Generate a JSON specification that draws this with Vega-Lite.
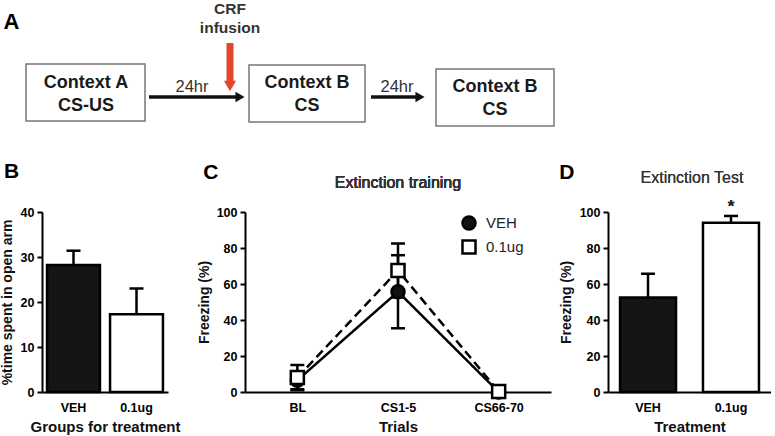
{
  "$schema": "https://vega.github.io/schema/vega-lite/v6.json",
  "padding": {"left": 0, "top": 0, "right": 0, "bottom": 0},
  "background": "white",
  "spacing": 11,
  "config": {
    "view": {"stroke": null},
    "font": "Liberation Sans",
    "axis": {"domainColor": "black", "domainWidth": 2, "tickColor": "black", "tickWidth": 2, "tickSize": 5, "labelFont": "Liberation Sans", "labelFontSize": 12.5, "labelFontWeight": "bold", "labelColor": "black", "labelOverlap": false, "titleFont": "Liberation Sans", "titleFontSize": 14, "titleFontWeight": "bold", "titleColor": "#111", "grid": false},
    "axisX": {"ticks": false, "labelAngle": 0, "labelPadding": 9, "titlePadding": 6},
    "axisY": {"titlePadding": 6, "labelPadding": 3},
    "title": {"fontSize": 21, "fontWeight": "bold", "anchor": "start", "frame": "bounds", "color": "black", "font": "Liberation Sans"}
  },
  "vconcat": [
    {
      "width": 560,
      "height": 150,
      "layer": [
        {
          "data": {"values": [
            {"x0": 26, "x1": 145, "y0": 64, "y1": 121},
            {"x0": 249, "x1": 365, "y0": 65, "y1": 122},
            {"x0": 436, "x1": 554, "y0": 69, "y1": 126}
          ]},
          "mark": {"type": "rect", "fill": "white", "stroke": "#777", "strokeWidth": 1.5},
          "encoding": {
            "x": {"field": "x0", "type": "quantitative", "scale": {"domain": [42, 602], "nice": false, "zero": false}, "axis": null},
            "x2": {"field": "x1"},
            "y": {"field": "y0", "type": "quantitative", "scale": {"domain": [0, 150], "nice": false, "zero": false, "reverse": true}, "axis": null},
            "y2": {"field": "y1"}
          }
        },
        {
          "data": {"values": [
            {"x0": 149, "x1": 238, "y": 97},
            {"x0": 371, "x1": 418, "y": 97}
          ]},
          "mark": {"type": "rule", "strokeWidth": 3.5, "color": "#111"},
          "encoding": {
            "x": {"field": "x0", "type": "quantitative"},
            "x2": {"field": "x1"},
            "y": {"field": "y", "type": "quantitative"}
          }
        },
        {
          "data": {"values": [
            {"x": 240, "y": 97},
            {"x": 420, "y": 97}
          ]},
          "mark": {"type": "point", "shape": "triangle-right", "filled": true, "color": "#111", "size": 110, "opacity": 1},
          "encoding": {
            "x": {"field": "x", "type": "quantitative"},
            "y": {"field": "y", "type": "quantitative"}
          }
        },
        {
          "data": {"values": [{"x": 230, "y0": 43, "y1": 84}]},
          "mark": {"type": "rule", "strokeWidth": 7, "color": "#e2472c"},
          "encoding": {
            "x": {"field": "x", "type": "quantitative"},
            "y": {"field": "y0", "type": "quantitative"},
            "y2": {"field": "y1"}
          }
        },
        {
          "data": {"values": [{"x": 230, "y": 86}]},
          "mark": {"type": "point", "shape": "triangle-down", "filled": true, "color": "#e2472c", "size": 150, "opacity": 1},
          "encoding": {
            "x": {"field": "x", "type": "quantitative"},
            "y": {"field": "y", "type": "quantitative"}
          }
        },
        {
          "data": {"values": [
            {"x": 86, "y": 83, "t": "Context A"},
            {"x": 86, "y": 106, "t": "CS-US"},
            {"x": 307, "y": 83, "t": "Context B"},
            {"x": 307, "y": 106, "t": "CS"},
            {"x": 495, "y": 87, "t": "Context B"},
            {"x": 495, "y": 110, "t": "CS"}
          ]},
          "mark": {"type": "text", "fontSize": 18, "fontWeight": "bold", "color": "#1a1a1a", "baseline": "middle", "align": "center"},
          "encoding": {
            "x": {"field": "x", "type": "quantitative"},
            "y": {"field": "y", "type": "quantitative"},
            "text": {"field": "t"}
          }
        },
        {
          "data": {"values": [
            {"x": 192, "y": 87, "t": "24hr"},
            {"x": 397, "y": 87, "t": "24hr"}
          ]},
          "mark": {"type": "text", "fontSize": 16.5, "color": "#333", "baseline": "middle", "align": "center"},
          "encoding": {
            "x": {"field": "x", "type": "quantitative"},
            "y": {"field": "y", "type": "quantitative"},
            "text": {"field": "t"}
          }
        },
        {
          "data": {"values": [
            {"x": 230, "y": 9, "t": "CRF"},
            {"x": 230, "y": 28, "t": "infusion"}
          ]},
          "mark": {"type": "text", "fontSize": 15.5, "fontWeight": "bold", "color": "#333", "baseline": "middle", "align": "center"},
          "encoding": {
            "x": {"field": "x", "type": "quantitative"},
            "y": {"field": "y", "type": "quantitative"},
            "text": {"field": "t"}
          }
        },
        {
          "data": {"values": [{"x": 11.5, "y": 22, "t": "A"}]},
          "mark": {"type": "text", "fontSize": 22, "fontWeight": "bold", "color": "black", "baseline": "middle", "align": "center"},
          "encoding": {
            "x": {"field": "x", "type": "quantitative"},
            "y": {"field": "y", "type": "quantitative"},
            "text": {"field": "t"}
          }
        }
      ]
    },
    {
      "hconcat": [
        {
          "width": 126,
          "height": 180,
          "title": {"text": "B", "offset": 24, "dx": 4},
          "data": {"values": [
            {"group": "VEH", "mean": 28.2, "upper": 31.4},
            {"group": "0.1ug", "mean": 17.3, "upper": 23}
          ]},
          "encoding": {
            "x": {"field": "group", "type": "nominal", "sort": ["VEH", "0.1ug"], "scale": {"paddingInner": 0.16, "paddingOuter": 0.08}, "axis": {"title": "Groups for treatment", "titleFontSize": 15}},
            "y": {"field": "mean", "type": "quantitative", "scale": {"domain": [0, 40], "nice": false}, "axis": {"values": [0, 10, 20, 30, 40], "labelOverlap": false, "title": "%time spent in open arm", "titlePadding": 6}}
          },
          "layer": [
            {
              "mark": {"type": "rule", "strokeWidth": 2.5, "color": "black"},
              "encoding": {
                "y2": {"field": "upper"}
              }
            },
            {
              "mark": {"type": "tick", "thickness": 2.5, "size": 14, "color": "black", "opacity": 1},
              "encoding": {
                "y": {"field": "upper", "type": "quantitative"}
              }
            },
            {
              "mark": {"type": "bar", "stroke": "black", "strokeWidth": 2.5, "opacity": 1},
              "encoding": {
                "fill": {"field": "group", "type": "nominal", "scale": {"domain": ["VEH", "0.1ug"], "range": ["#151515", "white"]}, "legend": null}
              }
            }
          ]
        },
        {
          "hconcat": [
            {
              "width": 306,
              "height": 180,
              "title": {"text": "C", "offset": -8, "dx": 6},
              "data": {"values": [
                {"trial": "BL", "group": "VEH", "mean": 6.5, "lo": 1.5, "hi": 11.5},
                {"trial": "CS1-5", "group": "VEH", "mean": 55.7, "lo": 35.4, "hi": 76},
                {"trial": "CS66-70", "group": "VEH", "mean": 0, "lo": 0, "hi": 0},
                {"trial": "BL", "group": "0.1ug", "mean": 8, "lo": 1, "hi": 15},
                {"trial": "CS1-5", "group": "0.1ug", "mean": 67.5, "lo": 52.5, "hi": 82.5},
                {"trial": "CS66-70", "group": "0.1ug", "mean": 0.3, "lo": 0.3, "hi": 0.3}
              ]},
              "encoding": {
                "x": {"field": "trial", "type": "ordinal", "sort": ["BL", "CS1-5", "CS66-70"], "scale": {"type": "point", "padding": 0.52}, "axis": {"title": "Trials", "titleFontSize": 15}},
                "y": {"field": "mean", "type": "quantitative", "scale": {"domain": [0, 100], "nice": false}, "axis": {"values": [0, 20, 40, 60, 80, 100], "labelOverlap": false, "title": "Freezing (%)", "titlePadding": 5}}
              },
              "layer": [
                {
                  "mark": {"type": "line", "strokeWidth": 2.5, "color": "black"},
                  "encoding": {
                    "strokeDash": {"field": "group", "type": "nominal", "scale": {"domain": ["VEH", "0.1ug"], "range": [[1, 0], [9, 5]]}, "legend": null},
                    "detail": {"field": "group"}
                  }
                },
                {
                  "mark": {"type": "rule", "strokeWidth": 2.5, "color": "black"},
                  "encoding": {
                    "y": {"field": "lo", "type": "quantitative"},
                    "y2": {"field": "hi"}
                  }
                },
                {
                  "mark": {"type": "tick", "thickness": 2.5, "size": 14, "color": "black", "opacity": 1},
                  "encoding": {"y": {"field": "hi", "type": "quantitative"}}
                },
                {
                  "mark": {"type": "tick", "thickness": 2.5, "size": 14, "color": "black", "opacity": 1},
                  "encoding": {"y": {"field": "lo", "type": "quantitative"}}
                },
                {
                  "mark": {"type": "point", "filled": true, "stroke": "black", "strokeWidth": 2.5, "size": 170, "opacity": 1},
                  "encoding": {
                    "fill": {"field": "group", "type": "nominal", "scale": {"domain": ["VEH", "0.1ug"], "range": ["#111", "white"]}, "legend": {"title": null, "orient": "none", "legendX": 216, "legendY": 3, "labelFontSize": 15, "labelFont": "Liberation Sans", "labelColor": "#222", "symbolSize": 170, "symbolStrokeWidth": 2.5, "symbolStrokeColor": "black", "rowPadding": 0, "labelOffset": 9, "encode": {"symbols": {"update": {"stroke": {"value": "black"}, "strokeWidth": {"value": 2.5}}}}}},
                    "shape": {"field": "group", "type": "nominal", "scale": {"domain": ["VEH", "0.1ug"], "range": ["circle", "square"]}, "legend": {"title": null, "orient": "none", "legendX": 216, "legendY": 3}}
                  }
                },
                {
                  "mark": {"type": "text", "fontSize": 16, "color": "#333", "baseline": "middle", "align": "center"},
                  "encoding": {
                    "x": {"datum": "CS1-5"},
                    "y": {"datum": 116},
                    "text": {"value": "Extinction training"}
                  }
                }
              ]
            },
            {
              "width": 163,
              "height": 180,
              "title": {"text": "D", "offset": -13, "dx": 0},
              "data": {"values": [
                {"group": "VEH", "mean": 52.5, "upper": 65.7},
                {"group": "0.1ug", "mean": 94, "upper": 97.8}
              ]},
              "encoding": {
                "x": {"field": "group", "type": "nominal", "sort": ["VEH", "0.1ug"], "scale": {"paddingInner": 0.325, "paddingOuter": 0.145}, "axis": {"title": "Treatment", "titleFontSize": 15}},
                "y": {"field": "mean", "type": "quantitative", "scale": {"domain": [0, 100], "nice": false}, "axis": {"values": [0, 20, 40, 60, 80, 100], "labelOverlap": false, "title": "Freezing (%)", "titlePadding": 6}}
              },
              "layer": [
                {
                  "mark": {"type": "rule", "strokeWidth": 2.5, "color": "black"},
                  "encoding": {
                    "y2": {"field": "upper"}
                  }
                },
                {
                  "mark": {"type": "tick", "thickness": 2.5, "size": 14, "color": "black", "opacity": 1},
                  "encoding": {"y": {"field": "upper", "type": "quantitative"}}
                },
                {
                  "mark": {"type": "bar", "stroke": "black", "strokeWidth": 2.5, "opacity": 1},
                  "encoding": {
                    "fill": {"field": "group", "type": "nominal", "scale": {"domain": ["VEH", "0.1ug"], "range": ["#151515", "white"]}, "legend": null}
                  }
                },
                {
                  "mark": {"type": "text", "fontSize": 17, "fontWeight": "bold", "color": "#222", "baseline": "middle", "align": "center"},
                  "encoding": {
                    "x": {"datum": "0.1ug"},
                    "y": {"datum": 103},
                    "text": {"value": "*"}
                  }
                },
                {
                  "mark": {"type": "text", "fontSize": 16, "color": "#333", "baseline": "middle", "align": "center", "dx": -39},
                  "encoding": {
                    "x": {"datum": "0.1ug"},
                    "y": {"datum": 119},
                    "text": {"value": "Extinction Test"}
                  }
                }
              ]
            }
          ],
          "spacing": 8,
          "resolve": {"scale": {"fill": "independent", "shape": "independent", "y": "independent", "x": "independent"}}
        }
      ],
      "spacing": 16,
      "resolve": {"scale": {"fill": "independent", "shape": "independent", "y": "independent", "x": "independent"}}
    }
  ]
}
